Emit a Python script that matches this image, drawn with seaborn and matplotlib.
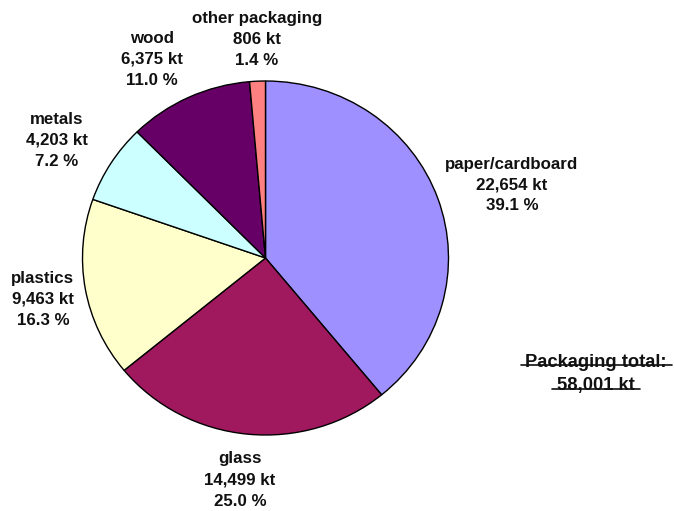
import matplotlib
matplotlib.use("Agg")
import matplotlib.pyplot as plt
import seaborn as sns
from matplotlib.lines import Line2D

sns.set_theme(style="white")
plt.rcParams['font.family'] = ['Liberation Sans', 'DejaVu Sans']

categories = ["paper/cardboard", "glass", "plastics", "metals", "wood", "other packaging"]
values_kt = [22654, 14499, 9463, 4203, 6375, 806]
total_kt = 58001
colors = ["#9F90FF", "#A0195F", "#FFFFCC", "#CCFFFF", "#660066", "#FF8080"]

W, H = 674, 511
fig = plt.figure(figsize=(W / 100, H / 100), dpi=100)
cx, cy, rx, ry = 265.5, 258, 183, 177
ax = fig.add_axes([(cx - rx) / W, (H - cy - ry) / H, 2 * rx / W, 2 * ry / H])
ax.pie(values_kt, colors=colors, startangle=90, counterclock=False,
       wedgeprops=dict(edgecolor="black", linewidth=1.0))
ax.set_xlim(-1, 1)
ax.set_ylim(-1, 1)
ax.set_aspect("auto")
ax.axis("off")

# label anchor positions (pixels, center of text block)
label_pos = [(512, 185), (240, 480), (43, 299), (57, 140), (152, 59), (257, 39)]
for cat, v, (px, py) in zip(categories, values_kt, label_pos):
    pct = v / total_kt * 100
    txt = f"{cat}\n{v:,} kt\n{pct:.1f} %"
    fig.text(px / W, 1 - py / H, txt, ha="center", va="center",
             fontsize=12.2, fontweight="bold", linespacing=1.5, color="#111111")

fig.text(596 / W, 1 - 374 / H, f"Packaging total:\n{total_kt:,} kt", ha="center",
         va="center", fontsize=13.2, fontweight="bold", linespacing=1.45, color="#111111")
for (x0, x1, y) in [(521, 672, 365), (552, 640, 389)]:
    fig.add_artist(Line2D([x0 / W, x1 / W], [1 - y / H, 1 - y / H],
                          transform=fig.transFigure, color="#111111", linewidth=1.2))

fig.savefig("out.png", dpi=100)
